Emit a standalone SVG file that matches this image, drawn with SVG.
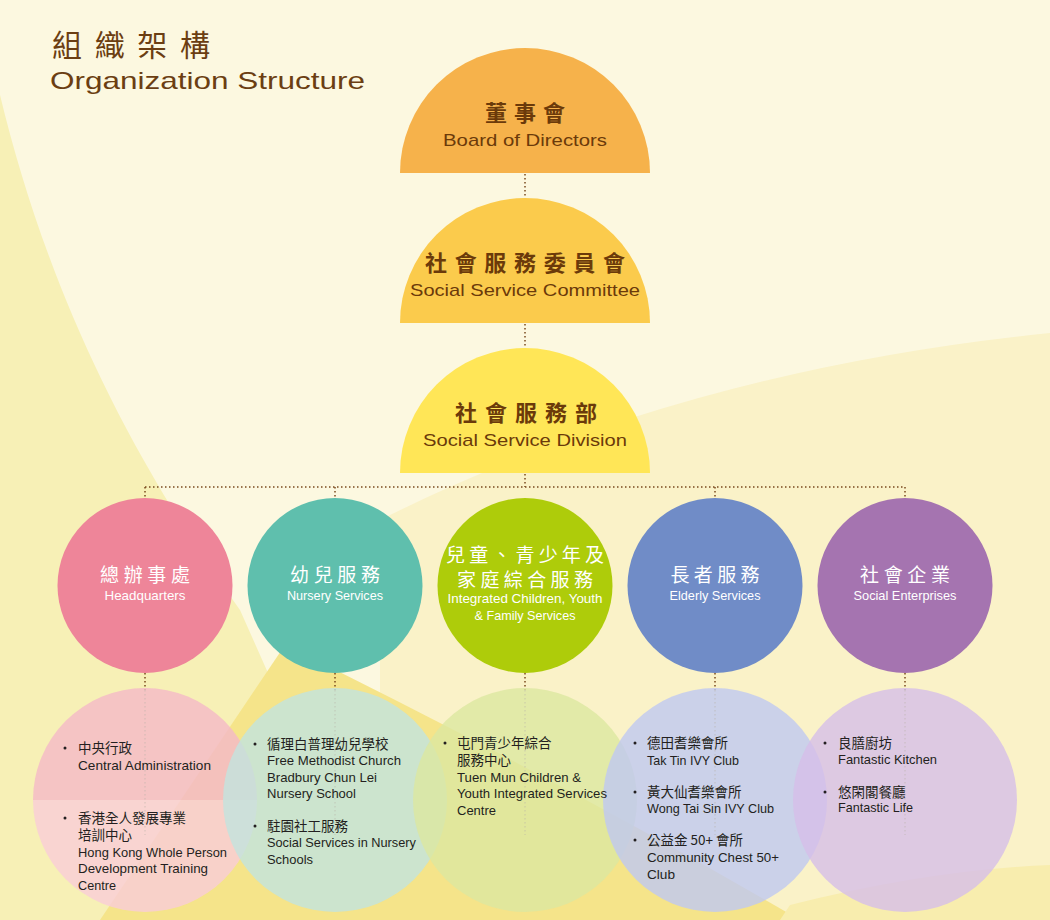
<svg xmlns="http://www.w3.org/2000/svg" width="1050" height="920" viewBox="0 0 1050 920">
<style>
.title{font-family:"Liberation Sans","Noto Sans CJK TC",sans-serif;fill:#6B3E12}
.semi-zh{font-family:"Noto Sans CJK TC",sans-serif;font-weight:700;font-size:22px;fill:#6B3A0A}
.semi-en{font-family:"Liberation Sans",sans-serif;font-size:17px;fill:#6B3A0A}
.c-zh{font-family:"Noto Sans CJK TC",sans-serif;font-size:19px;fill:#fff}
.c-en{font-family:"Liberation Sans",sans-serif;font-size:13.5px;fill:#fff}
.l-zh{font-family:"Noto Sans CJK TC",sans-serif;font-size:13.5px;fill:#231F20}
.l-en{font-family:"Liberation Sans",sans-serif;font-size:13.5px;fill:#231F20}
.bul{fill:#231F20}
.conn{stroke:#7A4A1E;stroke-width:1.5;stroke-dasharray:1.5 2.5;fill:none}
.faint{stroke:#B9B2A8;stroke-width:1;stroke-dasharray:1.5 2.5;fill:none;opacity:0.6}
</style>
<!-- background -->
<rect x="0" y="0" width="1050" height="920" fill="#FCF8E0"/>
<path d="M0,95 C40,260 110,430 240,610 L280,700 L150,920 L0,920 Z" fill="#F7F0B6"/>
<path d="M380,520 Q680,370 1050,333 L1050,920 L380,920 Z" fill="#FAF2C8"/>
<path d="M285,645 L100,920 L800,920 Q560,780 285,645 Z" fill="#F5E48A"/>
<path d="M790,905 Q930,870 1050,865 L1050,920 L780,920 Z" fill="#F8EDAE"/>

<!-- connectors -->
<g id="connectors">
<line class="conn" x1="525" y1="174" x2="525" y2="198"/>
<line class="conn" x1="525" y1="324" x2="525" y2="348"/>
<line class="conn" x1="525" y1="474" x2="525" y2="487"/>
<line class="conn" x1="145" y1="487" x2="905" y2="487"/>
<line class="conn" x1="145" y1="487" x2="145" y2="498"/>
<line class="conn" x1="335" y1="487" x2="335" y2="498"/>
<line class="conn" x1="715" y1="487" x2="715" y2="498"/>
<line class="conn" x1="905" y1="487" x2="905" y2="498"/>
<line class="conn" x1="145" y1="673" x2="145" y2="690"/>
<line class="conn" x1="335" y1="673" x2="335" y2="690"/>
<line class="conn" x1="525" y1="673" x2="525" y2="690"/>
<line class="conn" x1="715" y1="673" x2="715" y2="690"/>
<line class="conn" x1="905" y1="673" x2="905" y2="690"/>
</g>

<!-- title -->
<g id="title">
<text class="title" x="52" y="56" font-size="30" textLength="158" lengthAdjust="spacing">組織架構</text>
<text class="title" x="50" y="89" font-size="24" textLength="315" lengthAdjust="spacingAndGlyphs">Organization Structure</text>
</g>

<g id="board">
<path d="M400,173 A125,125 0 0 1 650,173 Z" fill="#F6B24B"/>
<text class="semi-zh" x="525" y="121" text-anchor="middle" textLength="80" lengthAdjust="spacing">董事會</text>
<text class="semi-en" x="525" y="146" text-anchor="middle" textLength="164" lengthAdjust="spacingAndGlyphs">Board of Directors</text>
</g>
<g id="committee">
<path d="M400,323 A125,125 0 0 1 650,323 Z" fill="#FBCB4C"/>
<text class="semi-zh" x="525" y="271" text-anchor="middle" textLength="200" lengthAdjust="spacing">社會服務委員會</text>
<text class="semi-en" x="525" y="296" text-anchor="middle" textLength="230" lengthAdjust="spacingAndGlyphs">Social Service Committee</text>
</g>
<g id="division">
<path d="M400,473 A125,125 0 0 1 650,473 Z" fill="#FFE657"/>
<text class="semi-zh" x="526" y="421" text-anchor="middle" textLength="142" lengthAdjust="spacing">社會服務部</text>
<text class="semi-en" x="525" y="446" text-anchor="middle" textLength="204" lengthAdjust="spacingAndGlyphs">Social Service Division</text>
</g>

<!-- bottom detail circles -->
<g id="hq-detail">
<path d="M33,800 A112,112 0 0 1 257,800 Z" fill="#F4B9C7" fill-opacity="0.82"/>
<path d="M33,800 A112,112 0 0 0 257,800 Z" fill="#F9CDD7" fill-opacity="0.82"/>
<line class="faint" x1="145" y1="690" x2="145" y2="835"/>
</g>
<g id="nursery-detail">
<circle cx="335" cy="800" r="112" fill="#C2E4DF" fill-opacity="0.8"/>
<line class="faint" x1="335" y1="690" x2="335" y2="835"/>
</g>
<g id="children-detail">
<circle cx="525" cy="800" r="112" fill="#DCE7A0" fill-opacity="0.8"/>
<line class="faint" x1="525" y1="690" x2="525" y2="835"/>
</g>
<g id="elderly-detail">
<circle cx="715" cy="800" r="112" fill="#BFC8F1" fill-opacity="0.8"/>
<line class="faint" x1="715" y1="690" x2="715" y2="835"/>
</g>
<g id="social-detail">
<circle cx="905" cy="800" r="112" fill="#D6BEE9" fill-opacity="0.8"/>
<line class="faint" x1="905" y1="690" x2="905" y2="835"/>
</g>

<!-- main circles -->
<g id="headquarters">
<circle cx="145" cy="585.5" r="87.5" fill="#EE8599"/>
<text class="c-zh" x="145" y="582" text-anchor="middle" textLength="90" lengthAdjust="spacing">總辦事處</text>
<text class="c-en" x="145" y="600" text-anchor="middle" textLength="81" lengthAdjust="spacingAndGlyphs">Headquarters</text>
</g>
<g id="nursery">
<circle cx="335" cy="585.5" r="87.5" fill="#5FBFAD"/>
<text class="c-zh" x="335" y="582" text-anchor="middle" textLength="90" lengthAdjust="spacing">幼兒服務</text>
<text class="c-en" x="335" y="600" text-anchor="middle" textLength="96" lengthAdjust="spacingAndGlyphs">Nursery Services</text>
</g>
<g id="children">
<circle cx="525" cy="585.5" r="87.5" fill="#AECC0A"/>
<text class="c-zh" x="525" y="562" text-anchor="middle" textLength="158" lengthAdjust="spacing">兒童、青少年及</text>
<text class="c-zh" x="525" y="587" text-anchor="middle" textLength="136" lengthAdjust="spacing">家庭綜合服務</text>
<text class="c-en" x="525" y="603" text-anchor="middle" textLength="155" lengthAdjust="spacingAndGlyphs">Integrated Children, Youth</text>
<text class="c-en" x="525" y="620" text-anchor="middle" textLength="101" lengthAdjust="spacingAndGlyphs">&amp; Family Services</text>
</g>
<g id="elderly">
<circle cx="715" cy="585.5" r="87.5" fill="#708CC7"/>
<text class="c-zh" x="715" y="582" text-anchor="middle" textLength="89" lengthAdjust="spacing">長者服務</text>
<text class="c-en" x="715" y="600" text-anchor="middle" textLength="91" lengthAdjust="spacingAndGlyphs">Elderly Services</text>
</g>
<g id="social-enterprises">
<circle cx="905" cy="585.5" r="87.5" fill="#A574B0"/>
<text class="c-zh" x="905" y="582" text-anchor="middle" textLength="90" lengthAdjust="spacing">社會企業</text>
<text class="c-en" x="905" y="600" text-anchor="middle" textLength="103" lengthAdjust="spacingAndGlyphs">Social Enterprises</text>
</g>

<!-- lists -->
<g id="hq-list">
<circle class="bul" cx="65" cy="748" r="1.5"/>
<text class="l-zh" x="78" y="753">中央行政</text>
<text class="l-en" x="78" y="770" textLength="133" lengthAdjust="spacingAndGlyphs">Central Administration</text>
<circle class="bul" cx="65" cy="818" r="1.5"/>
<text class="l-zh" x="78" y="823">香港全人發展專業</text>
<text class="l-zh" x="78" y="840">培訓中心</text>
<text class="l-en" x="78" y="857" textLength="149" lengthAdjust="spacingAndGlyphs">Hong Kong Whole Person</text>
<text class="l-en" x="78" y="873" textLength="130" lengthAdjust="spacingAndGlyphs">Development Training</text>
<text class="l-en" x="78" y="890" textLength="38" lengthAdjust="spacingAndGlyphs">Centre</text>
</g>
<g id="nursery-list">
<circle class="bul" cx="255" cy="744" r="1.5"/>
<text class="l-zh" x="267" y="749">循理白普理幼兒學校</text>
<text class="l-en" x="267" y="765" textLength="134" lengthAdjust="spacingAndGlyphs">Free Methodist Church</text>
<text class="l-en" x="267" y="782" textLength="110" lengthAdjust="spacingAndGlyphs">Bradbury Chun Lei</text>
<text class="l-en" x="267" y="798" textLength="89" lengthAdjust="spacingAndGlyphs">Nursery School</text>
<circle class="bul" cx="255" cy="826" r="1.5"/>
<text class="l-zh" x="267" y="831">駐園社工服務</text>
<text class="l-en" x="267" y="847" textLength="149" lengthAdjust="spacingAndGlyphs">Social Services in Nursery</text>
<text class="l-en" x="267" y="864" textLength="46" lengthAdjust="spacingAndGlyphs">Schools</text>
</g>
<g id="children-list">
<circle class="bul" cx="445" cy="743" r="1.5"/>
<text class="l-zh" x="457" y="748">屯門青少年綜合</text>
<text class="l-zh" x="457" y="765">服務中心</text>
<text class="l-en" x="457" y="782" textLength="124" lengthAdjust="spacingAndGlyphs">Tuen Mun Children &amp;</text>
<text class="l-en" x="457" y="798" textLength="150" lengthAdjust="spacingAndGlyphs">Youth Integrated Services</text>
<text class="l-en" x="457" y="815" textLength="39" lengthAdjust="spacingAndGlyphs">Centre</text>
</g>
<g id="elderly-list">
<circle class="bul" cx="635" cy="743" r="1.5"/>
<text class="l-zh" x="647" y="748">德田耆樂會所</text>
<text class="l-en" x="647" y="765" textLength="92" lengthAdjust="spacingAndGlyphs">Tak Tin IVY Club</text>
<circle class="bul" cx="635" cy="792" r="1.5"/>
<text class="l-zh" x="647" y="797">黃大仙耆樂會所</text>
<text class="l-en" x="647" y="813" textLength="127" lengthAdjust="spacingAndGlyphs">Wong Tai Sin IVY Club</text>
<circle class="bul" cx="635" cy="840" r="1.5"/>
<text class="l-zh" x="647" y="845">公益金 50+ 會所</text>
<text class="l-en" x="647" y="862" textLength="132" lengthAdjust="spacingAndGlyphs">Community Chest 50+</text>
<text class="l-en" x="647" y="879" textLength="28" lengthAdjust="spacingAndGlyphs">Club</text>
</g>
<g id="social-list">
<circle class="bul" cx="825" cy="743" r="1.5"/>
<text class="l-zh" x="838" y="748">良膳廚坊</text>
<text class="l-en" x="838" y="764" textLength="99" lengthAdjust="spacingAndGlyphs">Fantastic Kitchen</text>
<circle class="bul" cx="825" cy="792" r="1.5"/>
<text class="l-zh" x="838" y="797">悠閑閣餐廳</text>
<text class="l-en" x="838" y="812" textLength="75" lengthAdjust="spacingAndGlyphs">Fantastic Life</text>
</g>
</svg>
